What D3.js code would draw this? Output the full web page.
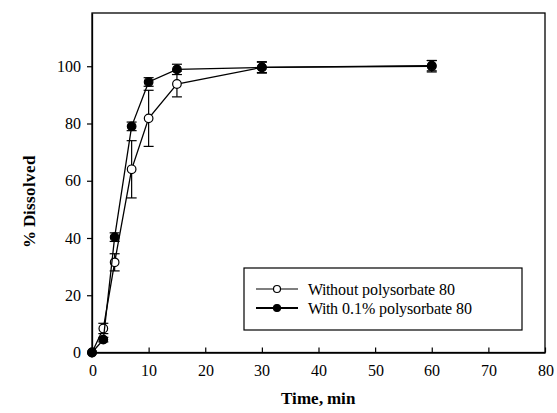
<!DOCTYPE html>
<html>
<head>
<meta charset="utf-8">
<script src="https://cdn.jsdelivr.net/npm/d3@7"></script>
<style>
  @font-face { font-family: "ChartSerif"; font-weight: normal;
    src: local("Liberation Serif"), local("LiberationSerif"), local("LiberationSerif-Regular"); }
  @font-face { font-family: "ChartSerif"; font-weight: bold;
    src: local("Liberation Serif Bold"), local("LiberationSerif-Bold"); }
  body { margin: 0; background: #fff; }
</style>
</head>
<body>
<script>
// data
var times = [0, 2, 4, 7, 10, 15, 30, 60];
var withoutVals = [0, 8.4, 31.5, 64, 81.8, 93.8, 99.6, 100];
var withoutErr = [0, 1.8, 3, 10, 9.8, 4.5, 2, 2];
var withVals = [0, 4.5, 40.3, 79, 94.5, 98.9, 99.6, 100.2];
var withErr = [0, 0.8, 1.5, 1.5, 1.5, 1.8, 1.8, 1.8];
var xTicks = [0, 10, 20, 30, 40, 50, 60, 70, 80];
var yTicks = [0, 20, 40, 60, 80, 100];
var legendLabels = ["Without polysorbate 80", "With 0.1% polysorbate 80"];

var FONT = "ChartSerif, 'Liberation Serif', 'Times New Roman', Tinos, serif";
function serif(sel, size, bold) {
  sel.attr("font-family", FONT).attr("font-size", size)
    .style("font-family", FONT).style("font-size", size + "px");
  if (bold) sel.attr("font-weight", "bold").style("font-weight", "bold");
  return sel;
}

var W = 557, H = 413;
var svg = d3.select("body").append("svg").attr("width", W).attr("height", H)
  .attr("font-family", FONT);

var x = d3.scaleLinear().domain([0, 80]).range([92, 545]);
var y = d3.scaleLinear().domain([0, 118.6]).range([352.5, 13]);

// frame
svg.append("rect")
  .attr("x", x(0)).attr("y", y(118.6))
  .attr("width", x(80) - x(0)).attr("height", y(0) - y(118.6))
  .attr("fill", "none").attr("stroke", "#000").attr("stroke-width", 1.3);

var xAxis = svg.append("g").attr("transform", "translate(0," + y(0) + ")")
  .call(d3.axisBottom(x).tickValues(xTicks).tickSizeInner(-5).tickSizeOuter(0).tickPadding(12));
var yAxis = svg.append("g").attr("transform", "translate(" + x(0) + ",0)")
  .call(d3.axisLeft(y).tickValues(yTicks).tickSizeInner(5).tickSizeOuter(0).tickPadding(6));
[xAxis, yAxis].forEach(function(a) {
  a.attr("font-family", FONT).attr("font-size", 16);
  a.select(".domain").attr("stroke", "#000").attr("stroke-width", 1.3);
  a.selectAll(".tick line").attr("stroke", "#000").attr("stroke-width", 1.2);
  serif(a.selectAll(".tick text").attr("fill", "#000"), 16);
});
xAxis.selectAll(".tick text").attr("dy", "0.71em");

serif(svg.append("text").attr("x", 318).attr("y", 404).attr("text-anchor", "middle"), 17, true)
  .text("Time, min");
serif(svg.append("text").attr("transform", "translate(35,202) rotate(-90)").attr("text-anchor", "middle"), 17, true)
  .text("% Dissolved");

var series = [
  { vals: withoutVals, err: withoutErr, fill: "#fff" },
  { vals: withVals, err: withErr, fill: "#000" }
];

var line = d3.line().x(function(d) { return x(d[0]); }).y(function(d) { return y(d[1]); });

series.forEach(function(s) {
  var pts = times.map(function(t, i) { return [t, s.vals[i], s.err[i]]; });
  var g = svg.append("g");
  g.append("path").datum(pts).attr("d", line)
    .attr("fill", "none").attr("stroke", "#000").attr("stroke-width", 1.3);
  var eb = g.selectAll(".eb").data(pts.filter(function(d) { return d[2] > 0; })).enter().append("g");
  eb.append("line")
    .attr("x1", function(d) { return x(d[0]); }).attr("x2", function(d) { return x(d[0]); })
    .attr("y1", function(d) { return y(d[1] - d[2]); }).attr("y2", function(d) { return y(d[1] + d[2]); })
    .attr("stroke", "#000").attr("stroke-width", 1.2);
  [-1, 1].forEach(function(sgn) {
    eb.append("line")
      .attr("x1", function(d) { return x(d[0]) - 5; }).attr("x2", function(d) { return x(d[0]) + 5; })
      .attr("y1", function(d) { return y(d[1] + sgn * d[2]); }).attr("y2", function(d) { return y(d[1] + sgn * d[2]); })
      .attr("stroke", "#000").attr("stroke-width", 1.2);
  });
  g.selectAll("circle").data(pts).enter().append("circle")
    .attr("cx", function(d) { return x(d[0]); }).attr("cy", function(d) { return y(d[1]); })
    .attr("r", 4.3).attr("fill", s.fill).attr("stroke", "#000").attr("stroke-width", 1.2);
});

// legend
var lg = svg.append("g");
lg.append("rect").attr("x", 244).attr("y", 268).attr("width", 278).attr("height", 62)
  .attr("fill", "#fff").attr("stroke", "#000").attr("stroke-width", 1.2);
legendLabels.forEach(function(lbl, i) {
  var yy = 289 + i * 19;
  lg.append("line").attr("x1", 256).attr("x2", 298).attr("y1", yy).attr("y2", yy)
    .attr("stroke", "#000").attr("stroke-width", i ? 1.8 : 1.2);
  lg.append("circle").attr("cx", 277).attr("cy", yy).attr("r", 3.5)
    .attr("fill", series[i].fill).attr("stroke", "#000").attr("stroke-width", 1.2);
  serif(lg.append("text").attr("x", 308).attr("y", yy + 5.5), 16).text(lbl);
});
</script>
</body>
</html>
